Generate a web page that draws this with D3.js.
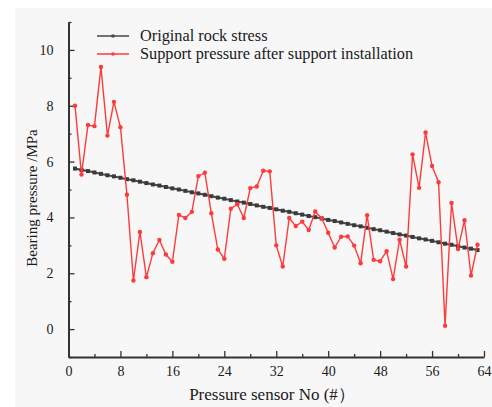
<!DOCTYPE html>
<html>
<head>
<meta charset="utf-8">
<script src="https://cdn.jsdelivr.net/npm/d3@7"></script>
<style>
  html, body { margin: 0; padding: 0; background: #ffffff; }
  svg { display: block; }
  text { font-family: "Liberation Serif", "Times New Roman", serif; fill: #1a1a1a; }
</style>
</head>
<body>
<svg id="chart" width="492" height="407"></svg>
<script>
// Sensor numbers along the roadway
const sensors = d3.range(1, 64);

// Original rock stress (MPa) at each sensor
const rockStress = [
  5.75, 5.70, 5.66, 5.61, 5.56, 5.51, 5.47, 5.42, 5.37, 5.33,
  5.28, 5.23, 5.18, 5.14, 5.09, 5.04, 5.00, 4.95, 4.90, 4.86,
  4.81, 4.76, 4.71, 4.67, 4.62, 4.57, 4.53, 4.48, 4.43, 4.38,
  4.34, 4.29, 4.24, 4.20, 4.15, 4.10, 4.05, 4.01, 3.96, 3.91,
  3.87, 3.82, 3.77, 3.72, 3.68, 3.63, 3.58, 3.54, 3.49, 3.44,
  3.39, 3.35, 3.30, 3.25, 3.21, 3.16, 3.11, 3.06, 3.02, 2.97,
  2.92, 2.88, 2.83
];

// Support pressure after support installation (MPa)
const supportPressure = [
  8.00, 5.54, 7.31, 7.27, 9.39, 6.93, 8.14, 7.23, 4.81, 1.74,
  3.48, 1.86, 2.72, 3.19, 2.67, 2.41, 4.09, 3.98, 4.20, 5.48,
  5.60, 4.15, 2.85, 2.52, 4.31, 4.47, 3.98, 5.05, 5.11, 5.67,
  5.65, 3.00, 2.24, 3.98, 3.69, 3.85, 3.55, 4.21, 3.97, 3.45,
  2.92, 3.31, 3.32, 2.99, 2.36, 4.08, 2.48, 2.43, 2.79, 1.79,
  3.20, 2.24, 6.26, 5.06, 7.04, 5.84, 5.26, 0.12, 4.52, 2.87,
  3.90, 1.92, 3.02
];

const xTicks = [0, 8, 16, 24, 32, 40, 48, 56, 64];
const yTicks = [0, 2, 4, 6, 8, 10];

const seriesNames = ["Original rock stress", "Support pressure after support installation"];
const xTitle = "Pressure sensor No (#\uFF09";
const yTitle = "Bearing pressure /MPa";

const svg = d3.select("#chart");
const W = 492, H = 407;
const plot = { left: 68.5, right: 484, top: 22, bottom: 357 };

// light page backdrop
svg.append("rect").attr("x", 15).attr("y", 8).attr("width", W - 15).attr("height", H - 8)
  .attr("fill", "#f7f7f7");

const x = d3.scaleLinear().domain([0, 64]).range([plot.left, plot.right]);
const y = d3.scaleLinear().domain([-1, 11]).range([plot.bottom, plot.top]);

const axisColor = "#333";
const tickFont = "Liberation Serif";

// X axis: major ticks every 8, minor every 4, pointing inward
const xMinor = svg.append("g").attr("transform", `translate(0,${plot.bottom})`)
  .call(d3.axisBottom(x).tickValues(d3.range(4, 64, 8)).tickSize(-3).tickFormat(""));
xMinor.select(".domain").remove();
const xMajor = svg.append("g").attr("transform", `translate(0,${plot.bottom})`)
  .call(d3.axisBottom(x).tickValues(xTicks).tickSize(-6).tickSizeOuter(0).tickPadding(9).tickFormat(d3.format("d")));
[xMinor, xMajor].forEach(g => {
  g.selectAll("line").attr("stroke", axisColor).attr("stroke-width", 1.3);
  g.selectAll("path").attr("stroke", axisColor).attr("stroke-width", 1.8);
  g.selectAll("text").attr("font-size", 14).attr("font-family", tickFont).attr("fill", "#222");
});

// Y axis: major ticks every 2, minor every 1, pointing inward
const yMinor = svg.append("g").attr("transform", `translate(${plot.left},0)`)
  .call(d3.axisLeft(y).tickValues([-1, 1, 3, 5, 7, 9, 11]).tickSize(-3).tickFormat(""));
yMinor.select(".domain").remove();
const yMajor = svg.append("g").attr("transform", `translate(${plot.left},0)`)
  .call(d3.axisLeft(y).tickValues(yTicks).tickSize(-6).tickSizeOuter(0).tickPadding(15).tickFormat(d3.format("d")));
[yMinor, yMajor].forEach(g => {
  g.selectAll("line").attr("stroke", axisColor).attr("stroke-width", 1.3);
  g.selectAll("path").attr("stroke", axisColor).attr("stroke-width", 2);
  g.selectAll("text").attr("font-size", 14).attr("font-family", tickFont).attr("fill", "#222");
});

// Axis titles
svg.append("text").attr("x", 272).attr("y", 400)
  .attr("text-anchor", "middle").attr("font-size", 17).text(xTitle);
svg.append("text").attr("transform", `translate(37,198) rotate(-90)`)
  .attr("text-anchor", "middle").attr("font-size", 15).text(yTitle);

// Series lines
const line = d3.line().x((d, i) => x(sensors[i])).y(d => y(d));

const blackColor = "#474747";
const redColor = "#ff3a3a";

svg.append("path").datum(rockStress).attr("d", line)
  .attr("fill", "none").attr("stroke", blackColor).attr("stroke-width", 2);
svg.append("g").selectAll("rect").data(rockStress).join("rect")
  .attr("x", (d, i) => x(sensors[i]) - 2).attr("y", d => y(d) - 2)
  .attr("width", 4).attr("height", 4).attr("fill", "#3a3a3a");

svg.append("path").datum(supportPressure).attr("d", line)
  .attr("fill", "none").attr("stroke", redColor).attr("stroke-width", 1.4);
svg.append("g").selectAll("circle").data(supportPressure).join("circle")
  .attr("cx", (d, i) => x(sensors[i])).attr("cy", d => y(d)).attr("r", 2.2)
  .attr("fill", redColor);

// Legend
const legend = svg.append("g");
const legendRows = [
  { name: seriesNames[0], color: blackColor, y: 36, square: true },
  { name: seriesNames[1], color: redColor, y: 54, square: false }
];
legendRows.forEach(r => {
  legend.append("line").attr("x1", 97).attr("x2", 129).attr("y1", r.y).attr("y2", r.y)
    .attr("stroke", r.color).attr("stroke-width", 1.5);
  if (r.square) {
    legend.append("rect").attr("x", 111.5).attr("y", r.y - 1.5).attr("width", 3).attr("height", 3).attr("fill", r.color);
  } else {
    legend.append("circle").attr("cx", 113).attr("cy", r.y).attr("r", 1.8).attr("fill", r.color);
  }
  legend.append("text").attr("x", 140).attr("y", r.y + 5).attr("font-size", 16.3).text(r.name);
});
</script>
</body>
</html>
